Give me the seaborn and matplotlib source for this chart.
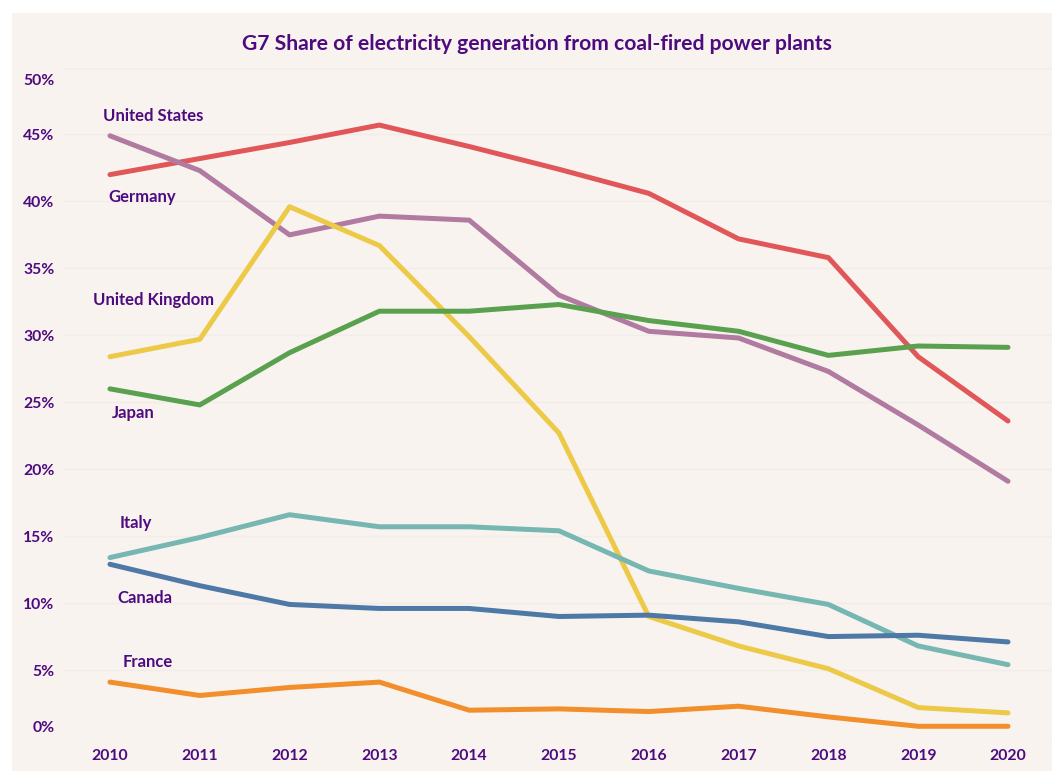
import matplotlib
matplotlib.use("Agg")
import matplotlib.pyplot as plt
import matplotlib.transforms as mtransforms
from matplotlib.patches import Rectangle
import pandas as pd
import seaborn as sns

# Share of electricity generated from coal, percent
years = list(range(2010, 2021))
germany = [42.0, 43.2, 44.4, 45.7, 44.1, 42.4, 40.6, 37.2, 35.8, 28.4, 23.6]
united_states = [44.9, 42.3, 37.5, 38.9, 38.6, 33.0, 30.3, 29.8, 27.3, 23.3, 19.1]
united_kingdom = [28.4, 29.7, 39.6, 36.7, 29.9, 22.7, 9.0, 6.8, 5.1, 2.2, 1.8]
japan = [26.0, 24.8, 28.7, 31.8, 31.8, 32.3, 31.1, 30.3, 28.5, 29.2, 29.1]
italy = [13.4, 14.9, 16.6, 15.7, 15.7, 15.4, 12.4, 11.1, 9.9, 6.8, 5.4]
canada = [12.9, 11.3, 9.9, 9.6, 9.6, 9.0, 9.1, 8.6, 7.5, 7.6, 7.1]
france = [4.1, 3.1, 3.7, 4.1, 2.0, 2.1, 1.9, 2.3, 1.5, 0.8, 0.8]

countries = ["Germany", "United States", "United Kingdom", "Japan",
             "Italy", "Canada", "France"]
series = [germany, united_states, united_kingdom, japan, italy, canada, france]
y_ticks = [0, 5, 10, 15, 20, 25, 30, 35, 40, 45, 50]

colors = {
    "Germany": "#e15759",
    "United States": "#b07aa1",
    "United Kingdom": "#edc948",
    "Japan": "#59a14f",
    "Italy": "#76b7b2",
    "Canada": "#4e79a7",
    "France": "#f28e2b",
}

# where each country's name sits, in data coordinates
label_pos = {
    "United States": (2010.48, 46.4),
    "Germany": (2010.36, 40.3),
    "United Kingdom": (2010.48, 32.6),
    "Japan": (2010.26, 24.2),
    "Italy": (2010.29, 16.0),
    "Canada": (2010.39, 10.4),
    "France": (2010.42, 5.6),
}

df = pd.DataFrame(
    [(c, y, v) for c, vals in zip(countries, series) for y, v in zip(years, vals)],
    columns=["country", "year", "share"],
)

bg = "#f8f3ef"
ink = "#4e0b80"

sns.set_theme(style="white")
plt.rcParams["font.family"] = ["Lato", "DejaVu Sans"]

fig = plt.figure(figsize=(10.52, 7.71), dpi=100, facecolor="white")
fig.patches.append(Rectangle((12 / 1052, 0), 1, 1 - 13 / 771,
                             transform=fig.transFigure, facecolor=bg,
                             edgecolor="none", zorder=-10))
ax = fig.add_axes([63 / 1052, 1 - 737 / 771, 1 - 63 / 1052, (737 - 67.5) / 771])
ax.set_facecolor(bg)

sns.lineplot(data=df, x="year", y="share", hue="country", palette=colors,
             hue_order=countries, linewidth=3.6, legend=False, ax=ax,
             solid_capstyle="round", solid_joinstyle="round")

ax.set_xlim(2009.477, 2020.49)
ax.set_ylim(0, 50)
ax.set_xticks(years)
ax.set_xticklabels([str(y) for y in years])
ax.set_yticks(y_ticks)
ax.set_yticklabels([f"{t}%" for t in y_ticks])
ax.grid(axis="y", color="#f2ede9", linewidth=1.0)
ax.set_axisbelow(True)
for s in ax.spines.values():
    s.set_visible(False)
ax.tick_params(axis="both", length=0, labelsize=11.3, labelcolor=ink)
ax.tick_params(axis="y", pad=6)
ax.tick_params(axis="x", pad=9)
for lab in ax.get_xticklabels() + ax.get_yticklabels():
    lab.set_fontweight("bold")
ax.set_xlabel("")
ax.set_ylabel("")

# keep the end labels of the y axis inside the panel
ylabs = ax.get_yticklabels()
ylabs[0].set_transform(ylabs[0].get_transform() +
                       mtransforms.ScaledTranslation(0, 10 / 100, fig.dpi_scale_trans))
ylabs[-1].set_transform(ylabs[-1].get_transform() +
                        mtransforms.ScaledTranslation(0, -12 / 100, fig.dpi_scale_trans))

for name, (lx, ly) in label_pos.items():
    ax.text(lx, ly, name, ha="center", va="center", fontsize=12,
            fontweight="bold", color=ink)

fig.text(537 / 1052, 1 - 44 / 771,
         "G7 Share of electricity generation from coal-fired power plants",
         ha="center", va="center", fontsize=15.2, fontweight="bold", color=ink)

fig.savefig("out.png", dpi=100, facecolor="white")
